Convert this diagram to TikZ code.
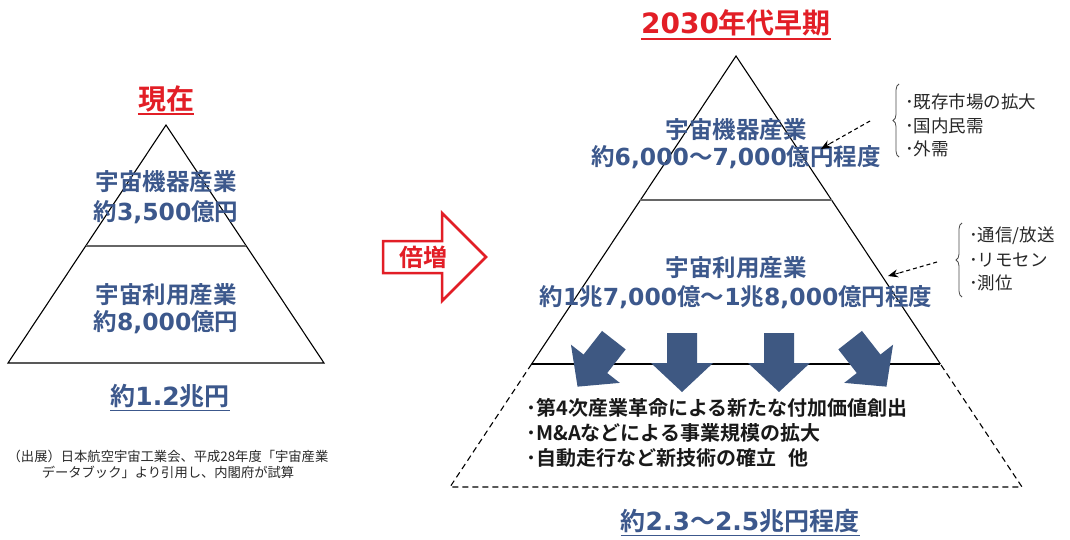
\documentclass[tikz,border=0pt]{standalone}
\usepackage{fontspec}
\setmainfont{Noto Sans CJK JP}[BoldFont={Noto Sans CJK JP Bold}]
\newfontfamily\dvfont{DejaVu Sans}
\newcommand\latn[1]{{\dvfont #1}}
\usetikzlibrary{arrows.meta,decorations.pathreplacing}
\definecolor{tblue}{RGB}{60,88,140}
\definecolor{tred}{RGB}{226,30,38}
\definecolor{abl}{RGB}{62,88,130}
\definecolor{tgray}{RGB}{40,40,40}
\begin{document}
\begin{tikzpicture}[x=1pt,y=-1pt,
  big/.style={font=\bfseries\fontsize{23.5}{23.5}\selectfont, text=tblue, inner sep=0pt},
  total/.style={font=\bfseries\fontsize{25}{25}\selectfont, text=tblue, inner sep=0pt},
  title/.style={font=\bfseries\fontsize{28}{28}\selectfont, text=tred, inner sep=0pt},
  ulblue/.style={draw=tblue, line width=1.8pt},
  ulred/.style={draw=tred, line width=2pt},
  tri/.style={draw=black, line width=1.1pt},
  divline/.style={draw=black!60, line width=1.1pt},
  dashedline/.style={draw=black, line width=1.1pt, dash pattern=on 6pt off 4pt},
  bul/.style={font=\bfseries\fontsize{20}{20}\selectfont, text=black!90, inner sep=0pt, anchor=west},
  item/.style={font=\fontsize{17.5}{17.5}\selectfont, text=tgray, inner sep=0pt, anchor=west},
  note/.style={font=\fontsize{13.3}{13.3}\selectfont, text=tgray, inner sep=0pt},
  brace/.style={draw=black!70, line width=0.8pt},
  darr/.style={draw=black, line width=1.1pt, dash pattern=on 4pt off 3pt},
  tipst/.style={fill=black, draw=none},
  darrow/.pic={\fill[abl] (-15,-29) -- (15,-29) -- (15,1) -- (31,1) -- (0,30) -- (-31,1) -- (-15,1) -- cycle;}
]
\useasboundingbox (0,0) rectangle (1070,539);
\fill[white] (0,0) rectangle (1070,539);

% ---------- left pyramid ----------
\coordinate (LA) at (166,125);
\coordinate (LBL) at (8,363);
\coordinate (LBR) at (324,363);
\coordinate (LDL) at (86,246);
\coordinate (LDR) at (246,246);
\draw[tri] (LBL) -- (LA) -- (LBR) -- cycle;
\draw[divline] (LDL) -- (LDR);

\node[title] (now) at (166,99) {現在};
\draw[ulred] ([yshift=-4pt]now.base west) -- ([yshift=-4pt]now.base east);

\node[big] (l1) at (166,182) {宇宙機器産業};
\node[big] (l2) at (166,212) {約\latn{3,500}億円};
\node[big] (l3) at (166,295) {宇宙利用産業};
\node[big] (l4) at (166,322) {約\latn{8,000}億円};

\node[total] (ltot) at (170,396) {約\latn{1.2}兆円};
\draw[ulblue] ([yshift=-5pt]ltot.base west) -- ([yshift=-5pt]ltot.base east);

\node[note] (n1) at (168,456) {（出展）日本航空宇宙工業会、平成28年度「宇宙産業};
\node[note] (n2) at (168,472) {データブック」より引用し、内閣府が試算};

% ---------- red arrow ----------
\draw[tred, line width=2.5pt, line join=miter]
  (383,241) -- (442,241) -- (442,213) -- (486,257) -- (442,301) -- (442,273) -- (383,273) -- cycle;
\node[font=\bfseries\fontsize{24}{24}\selectfont, text=tred, inner sep=0pt] (bai) at (423,257) {倍増};

% ---------- right pyramid ----------
\coordinate (RA) at (736,56);
\coordinate (RL) at (531.6,364);
\coordinate (RR) at (940.4,364);
\coordinate (RBL) at (450,487);
\coordinate (RBR) at (1022,487);
\coordinate (RDL) at (640.4,200);
\coordinate (RDR) at (831.6,200);
\draw[tri] (RL) -- (RA) -- (RR);
\draw[dashedline] (RL) -- (RBL) -- (RBR) -- (RR);
\draw[divline] (RDL) -- (RDR);
\draw[tri] (RL) -- (RR);

\node[title, font=\bfseries\fontsize{28}{28}\selectfont] (future) at (736,23) {\latn{2030}年代早期};
\draw[ulred] ([yshift=-5pt]future.base west) -- ([yshift=-5pt]future.base east);

\node[big] (r1) at (736,130) {宇宙機器産業};
\node[big] (r2) at (736,157) {約\latn{6,000}〜\latn{7,000}億円程度};
\node[big] (r3) at (736,268) {宇宙利用産業};
\node[big] (r4) at (736,297) {約\latn{1}兆\latn{7,000}億〜\latn{1}兆\latn{8,000}億円程度};

% blue arrows
\pic[rotate=-38] at (596,363) {darrow};
\pic at (682,362) {darrow};
\pic at (779,362) {darrow};
\pic[rotate=38] at (868,363) {darrow};

\node[bul] (b1) at (526,408) {･第4次産業革命による新たな付加価値創出};
\node[bul] (b2) at (526,433) {･M\&Aなどによる事業規模の拡大};
\node[bul] (b3) at (526,458) {･自動走行など新技術の確立\hspace{0.6em}他};

\node[total] (rtot) at (740,521) {約\latn{2.3}〜\latn{2.5}兆円程度};
\draw[ulblue] ([yshift=-5pt]rtot.base west) -- ([yshift=-5pt]rtot.base east);

% right side lists
\draw[brace, decorate, decoration={brace, amplitude=6pt}] (899,157) -- (899,84);
\node[item] (i1) at (905,102) {･既存市場の拡大};
\node[item] (i2) at (905,126) {･国内民需};
\node[item] (i3) at (905,149) {･外需};
\coordinate (s1) at (870,121);
\coordinate (m1) at (831,143);
\coordinate (e1) at (821,149);
\draw[darr] (s1) -- (m1);
\draw[draw=black, line width=0.8pt, -{Stealth[length=10pt,width=8pt]}] (m1) -- (e1);

\draw[brace, decorate, decoration={brace, amplitude=6pt}] (962,297) -- (962,223);
\node[item] (j1) at (969,236) {･通信/放送};
\node[item] (j2) at (969,260) {･リモセン};
\node[item] (j3) at (969,283) {･測位};
\coordinate (s2) at (937,262);
\coordinate (m2) at (899,273);
\coordinate (e2) at (888,276);
\draw[darr] (s2) -- (m2);
\draw[draw=black, line width=0.8pt, -{Stealth[length=10pt,width=8pt]}] (m2) -- (e2);
\end{tikzpicture}
\end{document}
